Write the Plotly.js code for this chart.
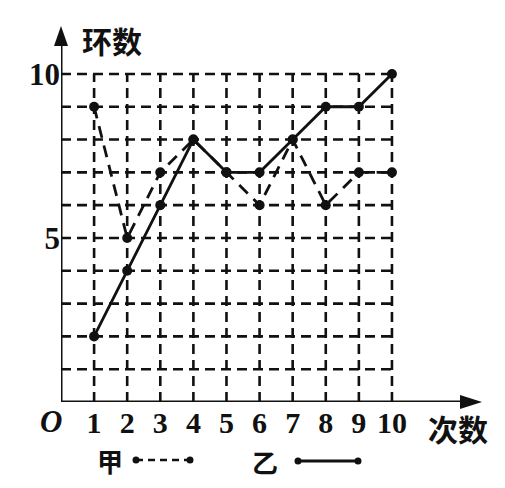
<!DOCTYPE html>
<html><head><meta charset="utf-8">
<script src="https://cdn.plot.ly/plotly-3.0.1.min.js"></script>
<style>body{margin:0;background:#fff}#c{width:505px;height:488px}</style>
</head><body><div id="c"></div>
<script>
var shots = [1,2,3,4,5,6,7,8,9,10];
var jia = [9,5,7,8,7,6,8,6,7,7];
var yi  = [2,4,6,8,7,7,8,9,9,10];
var xTickLabels = ['1','2','3','4','5','6','7','8','9','10'];
var yTickVals = [5,10];
var yTickLabels = ['5','10'];
var gridVals = [1,2,3,4,5,6,7,8,9,10];

var ink = '#111';
var shapes = [];
gridVals.forEach(function(v){
  shapes.push({type:'line',xref:'x',yref:'y',x0:0,x1:10,y0:v,y1:v,layer:'below',
    line:{color:ink,width:2.6,dash:'10px,6px'}});
  shapes.push({type:'line',xref:'x',yref:'y',x0:v,x1:v,y0:0,y1:10,layer:'below',
    line:{color:ink,width:2.6,dash:'10px,6px'}});
});
// axes
shapes.push({type:'line',xref:'x',yref:'y',x0:0,x1:12.2,y0:0,y1:0,line:{color:ink,width:3}});
shapes.push({type:'line',xref:'x',yref:'y',x0:0,x1:0,y0:0,y1:11.1,line:{color:ink,width:3}});
// legend graphics (paper coords)
function px(x){return (x-61)/419;}
function py(y){return (402-y)/374;}
shapes.push({type:'line',xref:'paper',yref:'paper',x0:px(136),x1:px(190),y0:py(460),y1:py(460),line:{color:ink,width:2.4,dash:'7px,5px'}});
shapes.push({type:'line',xref:'paper',yref:'paper',x0:px(298),x1:px(358),y0:py(461),y1:py(461),line:{color:ink,width:2.8}});
[[136,460],[190,460],[298,461],[358,461]].forEach(function(p){
  shapes.push({type:'circle',xref:'paper',yref:'paper',x0:px(p[0]-3.5),x1:px(p[0]+3.5),y0:py(p[1]-3.5),y1:py(p[1]+3.5),fillcolor:ink,line:{color:ink,width:0}});
});
// arrowheads
shapes.push({type:'path',xref:'paper',yref:'paper',
  path:'M '+px(61)+' '+py(26)+' L '+px(54)+' '+py(46)+' L '+px(68)+' '+py(46)+' Z',fillcolor:ink,line:{color:ink,width:0}});
shapes.push({type:'path',xref:'paper',yref:'paper',
  path:'M '+px(482)+' '+py(402)+' L '+px(460)+' '+py(395)+' L '+px(460)+' '+py(409)+' Z',fillcolor:ink,line:{color:ink,width:0}});

var cjk = '"Noto Sans CJK SC", sans-serif';
var serif = '"Liberation Serif", "DejaVu Serif", serif';
function lab(x,y,t,f,s){
  return {xref:'paper',yref:'paper',x:px(x),y:py(y),text:t,showarrow:false,
    xanchor:'center',yanchor:'middle',font:{family:f,size:s,color:ink}};
}
var annotations = [
  lab(112,40,'<b>环数</b>',cjk,30),
  lab(458,428,'<b>次数</b>',cjk,30),
  lab(51,421,'<b><i>O</i></b>',serif,31),
  lab(110,460,'<b>甲</b>',cjk,26),
  lab(265,461,'<b>乙</b>',cjk,26)
];

var traces = [
  {x:shots,y:jia,mode:'lines+markers',name:'甲',line:{color:ink,width:2.8,dash:'12px,8px'},marker:{size:10,color:ink}},
  {x:shots,y:yi,mode:'lines+markers',name:'乙',line:{color:ink,width:2.8},marker:{size:10,color:ink}}
];

var layout = {
  width:505,height:488,
  margin:{l:61,r:25,t:28,b:86},
  paper_bgcolor:'#fff',plot_bgcolor:'#fff',
  showlegend:false,
  xaxis:{range:[0,12.66],showgrid:false,zeroline:false,showline:false,
    tickvals:shots,ticktext:xTickLabels,ticks:'',
    tickfont:{family:serif,size:30,color:ink,weight:'bold'}},
  yaxis:{range:[0,11.4],showgrid:false,zeroline:false,showline:false,
    tickvals:yTickVals,ticktext:yTickLabels,ticks:'',
    tickfont:{family:serif,size:31,color:ink,weight:'bold'}},
  shapes:shapes,
  annotations:annotations
};
Plotly.newPlot('c',traces,layout,{staticPlot:true});
</script></body></html>
